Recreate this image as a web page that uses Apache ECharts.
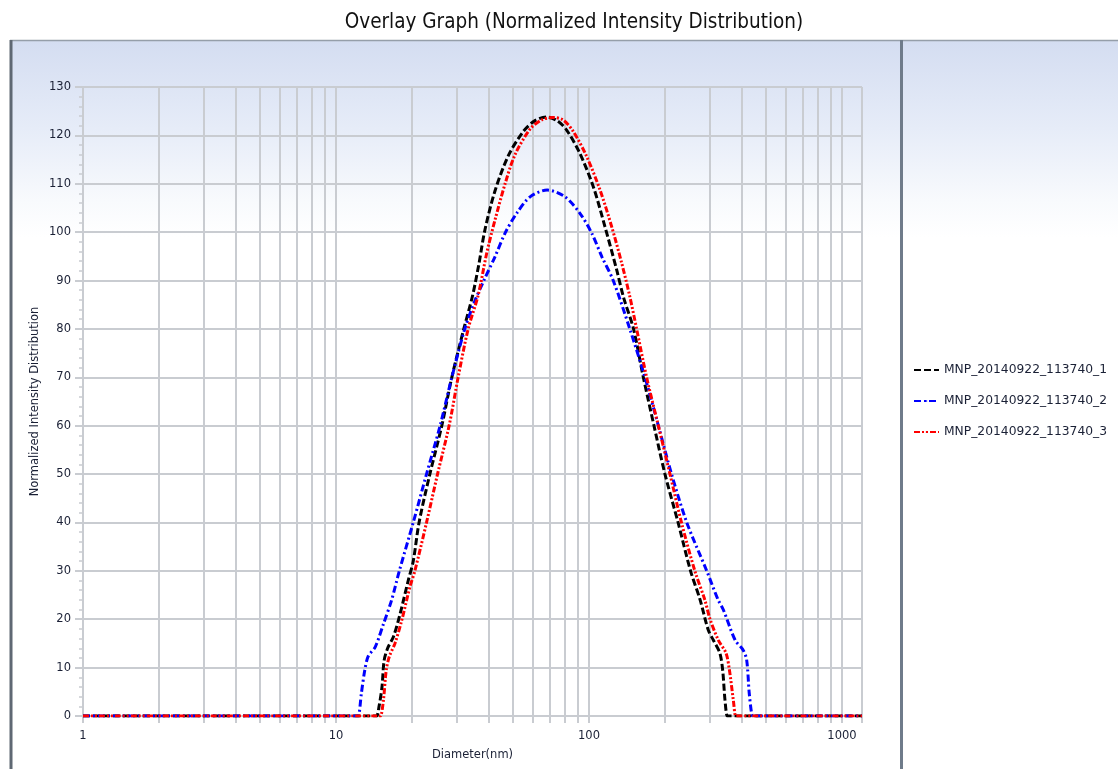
<!DOCTYPE html>
<html>
<head>
<meta charset="utf-8">
<script src="https://cdn.jsdelivr.net/npm/echarts@6/dist/echarts.min.js"></script>
<style>
  html, body { margin: 0; padding: 0; background: #fff; }
  #chart { width: 1118px; height: 769px; }
</style>
</head>
<body>
<div id="chart"></div>
<script>
// series names as in the legend
const names = ['MNP_20140922_113740_1', 'MNP_20140922_113740_2', 'MNP_20140922_113740_3'];

// run 1 (black, dashed)
const dia1 = [1, 14.3, 14.5, 14.8, 15.2, 15.5, 16.0, 16.9, 17.9, 19.3, 20.2, 21.3, 23.5, 26.2, 28.7, 32.0, 34.6, 36.6, 38.8, 42.5,
  48, 55, 61, 68, 75, 81.6, 92, 104, 115.7, 128.7, 137, 150, 164, 180.7, 199.7, 225, 252, 275, 296, 310, 329, 337.6, 344.8, 352, 356, 1200];
const int1 = [0, 0, 0, 2, 6, 11.5, 14, 16.5, 21, 28, 32, 40, 50, 60, 70, 80, 86.7, 93, 100.5, 108.5,
  115.8, 120.8, 123, 123.8, 123, 121.1, 116.3, 109.4, 101.1, 92.2, 86.5, 80, 70, 60, 50, 40, 30, 24, 17.8, 15.7, 13, 9.5, 3.3, 0, 0, 0];

// run 2 (blue, dash-dot)
const dia2 = [1, 12.1, 12.25, 12.6, 13.0, 13.4, 14.3, 15.4, 16.6, 17.8, 20.2, 22.8, 25.8, 28.7, 32.3, 35.4, 38.8, 42.5, 46.6, 51.8, 58.5,
  68.4, 80.4, 92.1, 102.5, 112.5, 124.7, 145, 166.5, 188, 212, 243.5, 292, 324, 340, 378, 407, 420, 430, 439.5, 445, 449, 1200];
const int2 = [0, 0, 0, 4.7, 9.5, 12.3, 14.3, 19, 24, 30, 40, 50, 60, 70, 80, 85.8, 90.5, 94.9, 99.8, 103.9, 107.3,
  108.7, 107.3, 103.9, 99.8, 94.9, 90, 80, 70, 60, 50, 40, 30, 24, 21.9, 15.7, 13.6, 11.6, 4.7, 0.5, 0, 0, 0];

// run 3 (red, dash-dot-dot)
const dia3 = [1, 14.8, 15.0, 15.4, 15.8, 16.25, 17.1, 18.2, 19.6, 20.5, 22.8, 25.2, 28, 30.4, 33.3, 36.5, 39.4, 42.5, 46.6, 51, 58.5,
  65, 72, 79, 86.7, 98, 110.6, 123, 134.7, 145, 154.3, 169, 188, 209, 232, 262, 287, 301, 324.5, 348, 359, 372, 380, 384, 1200];
const int3 = [0, 0, 0, 3.3, 9.5, 12.3, 15, 19.8, 26.7, 30, 40, 50, 60, 70, 80, 87, 95.6, 102.5, 110, 116, 121.3,
  123.2, 123.7, 123.2, 120.8, 115.6, 108.7, 101.1, 93.6, 86.7, 80, 70, 60, 50, 40, 30, 24, 20, 15.7, 13, 9.5, 3.3, 0, 0, 0];

// grid / tick values on the log axis
const xGridValues = [1, 2, 3, 4, 5, 6, 7, 8, 9, 10, 20, 30, 40, 50, 60, 70, 80, 90, 100,
  200, 300, 400, 500, 600, 700, 800, 900, 1000, 1200];
const xMinorGrid = [2, 3, 4, 5, 6, 7, 8, 9, 20, 30, 40, 50, 60, 70, 80, 90, 200, 300, 400, 500, 600, 700, 800, 900, 1200];
const xLabels = [1, 10, 100, 1000];

const GRID = '#c9ccd1';
const TXT = '#1a2035';
const FONT = "'DejaVu Sans', Verdana, sans-serif";

const zip = (xs, ys) => xs.map((x, i) => [x, ys[i]]);

const chart = echarts.init(document.getElementById('chart'), null, { renderer: 'canvas' });

const lineSeries = (name, xs, ys, color, dash) => ({
  name,
  type: 'line',
  data: zip(xs, ys),
  symbol: 'none',
  smooth: 0.3,
  lineStyle: { color, width: 3, type: dash },
  itemStyle: { color },
  emphasis: { disabled: true },
  z: 3
});

chart.setOption({
  animation: false,
  backgroundColor: '#fff',
  title: {
    text: 'Overlay Graph (Normalized Intensity Distribution)',
    left: 569,
    top: 7,
    textAlign: 'center',
    textStyle: { fontFamily: "'Liberation Sans Narrow', 'DejaVu Sans Condensed', sans-serif", fontSize: 20.5, fontWeight: 'normal', color: '#111' }
  },
  graphic: [
    {
      type: 'rect', z: -10, silent: true,
      shape: { x: 12, y: 41, width: 1106, height: 728 },
      style: {
        fill: {
          type: 'linear', x: 0, y: 0, x2: 0, y2: 1,
          colorStops: [
            { offset: 0, color: '#d4ddf1' },
            { offset: 0.12, color: '#e6ecf8' },
            { offset: 0.22, color: '#f8fafd' },
            { offset: 0.27, color: '#ffffff' },
            { offset: 1, color: '#ffffff' }
          ]
        }
      }
    },
    { type: 'line', z: -5, silent: true, shape: { x1: 10, y1: 40.5, x2: 1118, y2: 40.5 }, style: { stroke: '#959ea9', lineWidth: 1.5 } },
    { type: 'rect', z: -5, silent: true, shape: { x: 9.5, y: 40, width: 3, height: 729 }, style: { fill: '#5f6873' } },
    { type: 'rect', z: -5, silent: true, shape: { x: 900, y: 40, width: 3, height: 729 }, style: { fill: '#6f7b8a' } }
  ],
  legend: {
    orient: 'vertical',
    left: 908,
    top: 359,
    itemWidth: 25,
    itemHeight: 2,
    itemGap: 19,
    data: names,
    textStyle: { fontFamily: FONT, fontSize: 12.3, color: TXT }
  },
  grid: { left: 83, top: 87, right: 256, bottom: 53, containLabel: false },
  xAxis: {
    type: 'log',
    logBase: 10,
    min: 1,
    max: 1200,
    name: 'Diameter(nm)',
    nameLocation: 'middle',
    nameGap: 33,
    nameMoveOverlap: false,
    nameTextStyle: { fontFamily: FONT, fontSize: 11.5, color: TXT },
    axisLine: { show: true, lineStyle: { color: GRID, width: 2 } },
    axisTick: { show: true, length: 7, customValues: xGridValues, lineStyle: { color: GRID, width: 2 } },
    axisLabel: { customValues: xLabels, margin: 14, fontFamily: FONT, fontSize: 11.5, color: TXT, formatter: v => String(v) },
    splitLine: { show: true, lineStyle: { color: GRID, width: 2 } }
  },
  yAxis: {
    type: 'value',
    min: 0,
    max: 130,
    interval: 10,
    name: 'Normalized Intensity Distribution',
    nameLocation: 'middle',
    nameGap: 42,
    nameMoveOverlap: false,
    nameTextStyle: { fontFamily: FONT, fontSize: 11.5, color: TXT },
    axisLine: { show: true, lineStyle: { color: GRID, width: 2 } },
    axisTick: { show: true, length: 8, lineStyle: { color: GRID, width: 2 } },
    minorTick: { show: true, splitNumber: 5, length: 4, lineStyle: { color: GRID, width: 1.5 } },
    axisLabel: { margin: 12, fontFamily: FONT, fontSize: 11.5, color: TXT },
    splitLine: { show: true, lineStyle: { color: GRID, width: 2 } }
  },
  series: [
    Object.assign(lineSeries(names[0], dia1, int1, '#000000', [7, 3]), {
      markLine: {
        silent: true,
        z: 1,
        symbol: ['none', 'none'],
        label: { show: false },
        lineStyle: { color: GRID, width: 2, type: 'solid' },
        emphasis: { disabled: true },
        data: xMinorGrid.map(v => ({ xAxis: v }))
      }
    }),
    lineSeries(names[1], dia2, int2, '#0000ff', [7, 3, 2, 3]),
    lineSeries(names[2], dia3, int3, '#ff0000', [6, 2, 2, 2, 2, 2])
  ]
});
</script>
</body>
</html>
